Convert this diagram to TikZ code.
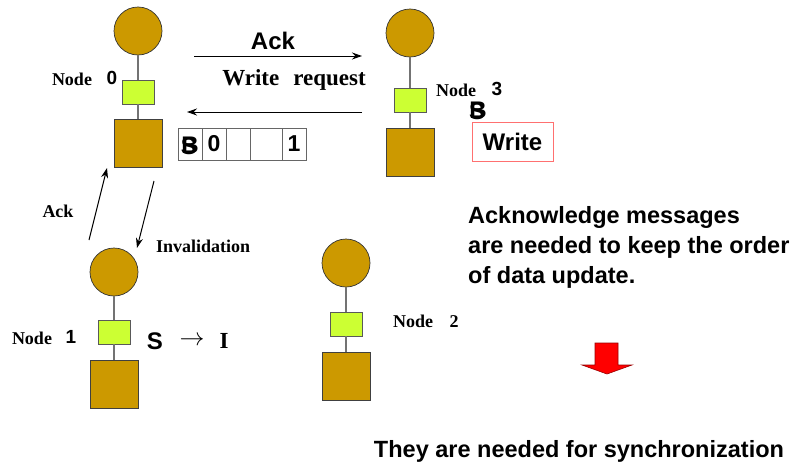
\documentclass[tikz,border=0pt]{standalone}
\usepackage{fontspec}
\setmainfont{Liberation Serif}
\setsansfont{Liberation Sans}
\usetikzlibrary{arrows.meta}
\definecolor{brownA}{HTML}{CC9900}
\definecolor{greenA}{HTML}{CCFF33}
\definecolor{boxred}{HTML}{FF7070}
\tikzset{
  cpu/.style={circle, draw=black!80, fill=brownA, minimum size=48pt, inner sep=0pt, line width=0.7pt},
  cache/.style={rectangle, draw=black!65, fill=greenA, minimum width=32pt, minimum height=24pt, inner sep=0pt, line width=0.9pt},
  mem/.style={rectangle, draw=black!75, fill=brownA, minimum width=48pt, minimum height=48pt, inner sep=0pt, line width=0.9pt},
  link/.style={draw=black!55, line width=1.2pt},
  msg/.style={-{Stealth[length=10pt,width=7pt]}, line width=1pt},
  serifl/.style={font=\bfseries\fontsize{18}{20}\selectfont, inner sep=0pt},
  serifbig/.style={font=\bfseries\fontsize{23}{26}\selectfont, inner sep=0pt},
  sansl/.style={font=\sffamily\bfseries\fontsize{24}{26}\selectfont, inner sep=0pt},
  sansm/.style={font=\sffamily\bfseries\fontsize{19}{22}\selectfont, inner sep=0pt},
  cell/.style={rectangle, draw=black!60, line width=0.9pt, minimum height=32pt, inner sep=0pt, font=\sffamily\bfseries\fontsize{23}{26}\selectfont},
}
\begin{document}
\begin{tikzpicture}[x=1pt,y=-1pt]
\useasboundingbox (0,0) rectangle (801,466);
% Node 0
\node[cpu] (c0) at (138,31) {};
\node[cache] (k0) at (138,92) {};
\node[mem] (m0) at (138,143.5) {};
\draw[link] (c0) -- (k0);
\draw[link] (k0) -- (m0);
\node[serifl] (n0a) at (72,79) {Node};
\node[sansm] (n0b) at (112,78) {0};
% Node 3
\node[cpu] (c3) at (410,33) {};
\node[cache] (k3) at (410,100) {};
\node[mem] (m3) at (410,152.5) {};
\draw[link] (c3) -- (k3);
\draw[link] (k3) -- (m3);
\node[serifl] (n3a) at (456,90) {Node};
\node[sansm] (n3b) at (497,89) {3};
\node[sansl] (bs3a) at (478,110) {B};
\node[sansl] (bs3b) at (477,111) {S};
\node[rectangle, draw=boxred, line width=1pt, minimum width=81pt, minimum height=39pt, font=\sffamily\bfseries\fontsize{24}{26}\selectfont] (wr) at (512.5,141.5) {Write};
% Node 1
\node[cpu] (c1) at (114,272) {};
\node[cache] (k1) at (114,332) {};
\node[mem] (m1) at (114,384) {};
\draw[link] (c1) -- (k1);
\draw[link] (k1) -- (m1);
\node[serifl] (n1a) at (32,338) {Node};
\node[sansm] (n1b) at (71,337) {1};
\node[sansl] (st1) at (155,341) {S};
\node[font=\fontsize{24}{26}\selectfont, inner sep=0pt] (st2) at (192,341) {$\rightarrow$};
\node[serifbig] (st3) at (224,341) {I};
% Node 2
\node[cpu] (c2) at (346,263) {};
\node[cache] (k2) at (346,324) {};
\node[mem] (m2) at (346,376) {};
\draw[link] (c2) -- (k2);
\draw[link] (k2) -- (m2);
\node[serifl] (n2a) at (413,321) {Node};
\node[serifl] (n2b) at (454,322) {2};
% table
\node[cell, minimum width=24pt] (t1) at (190,144) {};
\node[cell, minimum width=24pt] (t2) at (214,144) {0};
\node[cell, minimum width=24pt] (t3) at (238,144) {};
\node[cell, minimum width=32pt] (t4) at (266,144) {};
\node[cell, minimum width=24pt] (t5) at (294,144) {1};
\node[sansl] (tb) at (190,145) {B};
\node[sansl] (ts) at (189,146) {S};
% messages between 0 and 3
\coordinate (a1s) at (194,56);
\coordinate (a1e) at (362,56);
\coordinate (a2s) at (362,112);
\coordinate (a2e) at (187,112);
\draw[msg] (a1s) -- (a1e);
\draw[msg] (a2s) -- (a2e);
\node[sansl] (ackt) at (273,41) {Ack};
\node[serifbig] (wreq) at (294,80) {Write\hspace{14pt}request};
% messages between 0 and 1
\coordinate (b1s) at (89,240);
\coordinate (b1e) at (107,168);
\coordinate (b2s) at (154,181);
\coordinate (b2e) at (137,248);
\draw[msg] (b1s) -- (b1e);
\draw[msg] (b2s) -- (b2e);
\node[serifl] (ackl) at (58,211) {Ack};
\node[serifl, anchor=west] (inv) at (156,246) {Invalidation};
% right text
\node[font=\sffamily\bfseries\fontsize{23.5}{30}\selectfont, align=left, anchor=north west, inner sep=0pt] (note) at (468,206) {Acknowledge messages\\are needed to keep the order\\of data update.};
\draw[draw=red!60!black, fill=red, line width=0.6pt] (595,343) -- (618,343) -- (618,365) -- (632,365) -- (607,374) -- (582,365) -- (595,365) -- cycle;
\node[font=\sffamily\bfseries\fontsize{23.5}{26}\selectfont, inner sep=0pt] (sync) at (579,451) {They are needed for synchronization};
\end{tikzpicture}
\end{document}
